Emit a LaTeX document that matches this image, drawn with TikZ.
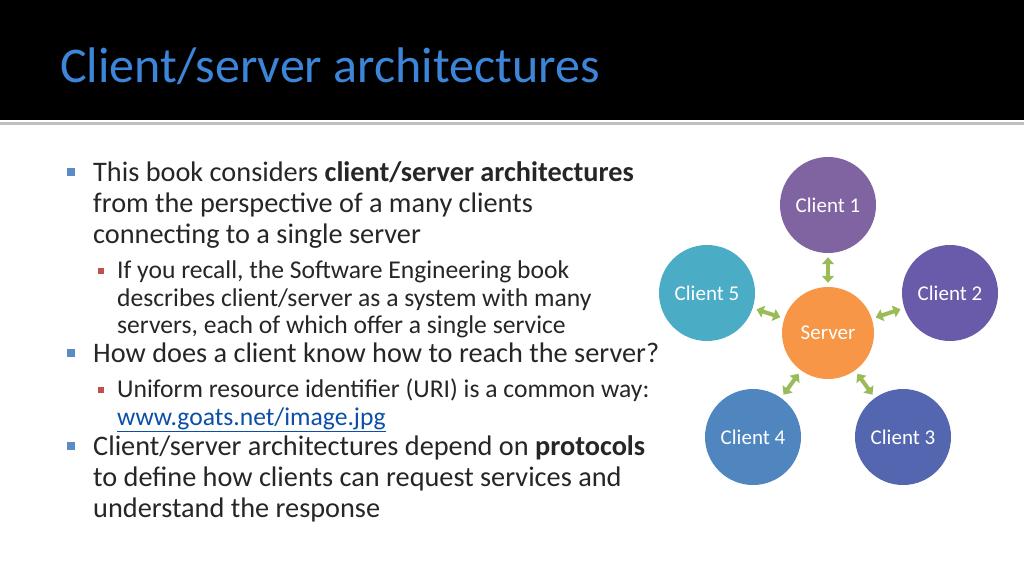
\documentclass[tikz,border=0pt]{standalone}
\usepackage{fontspec}
\setmainfont{Carlito}
\usetikzlibrary{arrows.meta}
\definecolor{titleblue}{HTML}{3D85D8}
\definecolor{bul}{HTML}{5B8BC4}
\definecolor{subbul}{HTML}{C0504D}
\definecolor{cA}{HTML}{8064A2}
\definecolor{cB}{HTML}{6A5AAA}
\definecolor{cC}{HTML}{5566B0}
\definecolor{cD}{HTML}{4F86BF}
\definecolor{cE}{HTML}{4BACC6}
\definecolor{srv}{HTML}{F79646}
\definecolor{arr}{HTML}{9BBB59}
\definecolor{link}{HTML}{0B4FA8}
\begin{document}
\begin{tikzpicture}[x=1pt,y=-1pt,
  mainline/.style={anchor=base west,inner sep=0,font=\fontsize{28.3}{32}\selectfont,text=black!85},
  subline/.style={anchor=base west,inner sep=0,font=\fontsize{25.6}{28}\selectfont,text=black!85},
  circ/.style={circle,minimum size=96pt,inner sep=0,text=white,font=\fontsize{21}{24}\selectfont},
  link2/.style={arrows={Triangle[width=12pt,length=7pt]-Triangle[width=12pt,length=7pt]},line width=4pt,draw=arr,shorten <=4pt,shorten >=4pt}]
\useasboundingbox (0,0) rectangle (1024,576);
\fill[white] (0,0) rectangle (1024,576);
\fill[black] (0,0) rectangle (1024,120);
\fill[black!25] (0,122) rectangle (1024,125);
\node[anchor=base west,inner sep=0,text=titleblue,font=\fontsize{50}{54}\selectfont] (title) at (60,82) {Client/server architectures};
\foreach \y in {172,353,446}{\fill[bul] (67,\y-4) rectangle ++(8,8);}
\foreach \y in {271,390}{\fill[subbul] (98,\y-3) rectangle ++(6,6);}
\node[mainline] (l1) at (93,181) {This book considers \textbf{client/server architectures}};
\node[mainline] (l2) at (93,212) {from the perspective of a many clients};
\node[mainline] (l3) at (93,243) {connecting to a single server};
\node[subline] (s1) at (117,278) {If you recall, the Software Engineering book};
\node[subline] (s2) at (117,306) {describes client/server as a system with many};
\node[subline] (s3) at (117,333) {servers, each of which offer a single service};
\node[mainline] (l4) at (93,362) {How does a client know how to reach the server?};
\node[subline] (s4) at (117,397) {Uniform resource identifier (URI) is a common way:};
\node[subline,text=link] (s5) at (117,425) {\underline{www.goats.net/image.jpg}};
\node[mainline] (l5) at (93,455) {Client/server architectures depend on \textbf{protocols}};
\node[mainline] (l6) at (93,486) {to define how clients can request services and};
\node[mainline] (l7) at (93,517) {understand the response};
\node[circ,fill=srv,minimum size=92pt] (srv) at (828,333) {Server};
\node[circ,fill=cA] (c1) at (828,205) {Client 1};
\node[circ,fill=cB] (c2) at (950,293) {Client 2};
\node[circ,fill=cC] (c3) at (903,437) {Client 3};
\node[circ,fill=cD] (c4) at (753,437) {Client 4};
\node[circ,fill=cE] (c5) at (707,293) {Client 5};
\foreach \c in {c1,c2,c3,c4,c5}{\draw[link2] (srv) -- (\c);}
\end{tikzpicture}
\end{document}
